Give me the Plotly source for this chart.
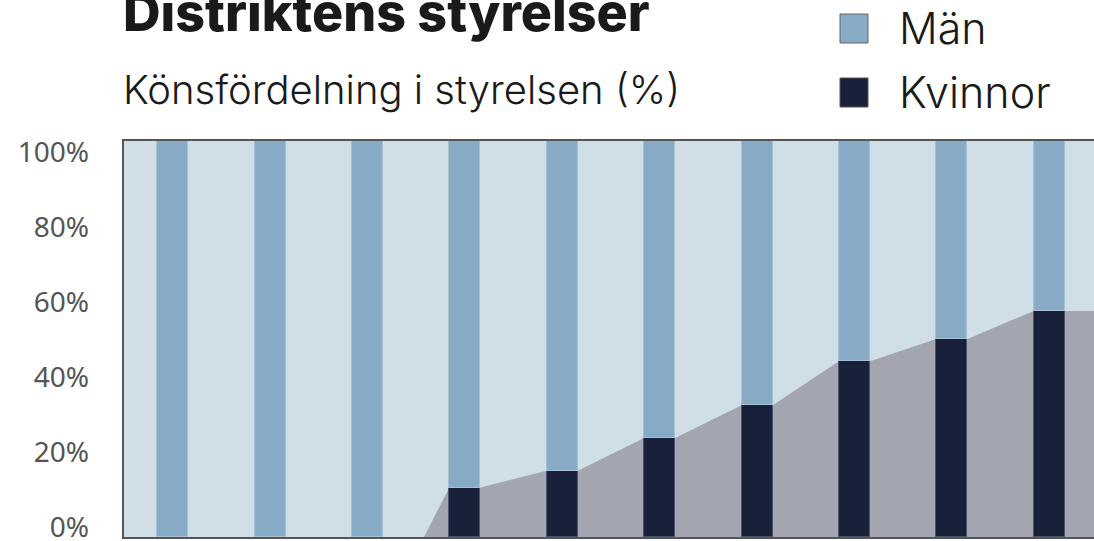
import plotly.graph_objects as go

# Styrelser, position 0..9 (vänster till höger)
positions = [0, 1, 2, 3, 4, 5, 6, 7, 8, 9]
kvinnor = [0, 0, 0, 12.5, 16.7, 25, 33.3, 44.4, 50, 57.1]
man = [100, 100, 100, 87.5, 83.3, 75, 66.7, 55.6, 50, 42.9]
y_ticks = [0, 20, 40, 60, 80, 100]
y_ticktext = ["0%", "20%", "40%", "60%", "80%", "100%"]

BAR_W = 0.32
AREA_START = 2.58

C_BG = "#d0dee7"
C_MAN = "#87aac5"
C_KV = "#18203a"
C_AREA = "#a3a5b0"

# area behind the bars, following the women's share
ax, ay = [-0.5, AREA_START], [0, 0]
for p, v in zip(positions, kvinnor):
    if v > 0:
        ax += [p - BAR_W / 2, p + BAR_W / 2]
        ay += [v, v]
ax.append(9.5)
ay.append(kvinnor[-1])

fig = go.Figure()
# area on the base axis, bars on an overlaid axis so they sit on top
fig.add_trace(go.Scatter(x=ax, y=ay, mode="lines", fill="tozeroy",
                         fillcolor=C_AREA, line=dict(width=0),
                         showlegend=False, hoverinfo="skip"))
fig.add_trace(go.Bar(x=positions, y=kvinnor, width=BAR_W, name="Kvinnor", yaxis="y3",
                     marker=dict(color=C_KV, line=dict(color="#4a5672", width=1)),
                     showlegend=False))
fig.add_trace(go.Bar(x=positions, y=man, width=BAR_W, name="Män", yaxis="y3",
                     marker=dict(color=C_MAN, line=dict(color="#a6bfd3", width=1)),
                     showlegend=False))
# invisible trace so the label axis gets drawn
fig.add_trace(go.Scatter(x=[0], y=[0], yaxis="y2", mode="markers",
                         marker=dict(opacity=0), showlegend=False, hoverinfo="skip"))

# plot area in pixels: x 124..1094, y 141..537
L, R, T, B = 124, 1094, 141, 537
def px(x):
    return (x - L) / (R - L)
def py(y):
    return (B - y) / (B - T)

shapes = [
    dict(type="rect", xref="paper", yref="paper",
         x0=px(840), x1=px(868), y0=py(43), y1=py(14),
         fillcolor=C_MAN, line=dict(color="#666666", width=1)),
    dict(type="rect", xref="paper", yref="paper",
         x0=px(840), x1=px(868), y0=py(107), y1=py(78),
         fillcolor=C_KV, line=dict(color="#555555", width=1)),
]

TXT = "#1a1a1a"
annotations = [
    dict(text="Distriktens styrelser", xref="paper", yref="paper",
         x=px(121), y=py(46), xanchor="left", yanchor="bottom", showarrow=False,
         font=dict(family="Inter", size=52, color=TXT, weight=800)),
    dict(text="Könsfördelning i styrelsen (%)", xref="paper", yref="paper",
         x=px(121), y=py(90), xanchor="left", yanchor="middle", showarrow=False,
         font=dict(family="Inter", size=40, color=TXT, weight=300)),
    dict(text="Män", xref="paper", yref="paper",
         x=px(897), y=py(28), xanchor="left", yanchor="middle", showarrow=False,
         font=dict(family="Inter", size=43, color=TXT, weight=300)),
    dict(text="Kvinnor", xref="paper", yref="paper",
         x=px(897), y=py(92), xanchor="left", yanchor="middle", showarrow=False,
         font=dict(family="Inter", size=43, color=TXT, weight=300)),
]

fig.update_layout(
    width=1094, height=541,
    margin=dict(l=L, r=0, t=T, b=541 - B),
    barmode="stack", bargap=0,
    paper_bgcolor="white", plot_bgcolor=C_BG,
    shapes=shapes, annotations=annotations,
    xaxis=dict(range=[-0.5, 9.5 - 4 / 97.4], showticklabels=False, showgrid=False,
               zeroline=False, showline=True, linecolor="#555555", linewidth=2,
               mirror=True, ticks="", automargin=False),
    yaxis=dict(range=[0, 100], showticklabels=False, showgrid=False,
               zeroline=False, showline=True, linecolor="#555555", linewidth=2,
               ticks="", automargin=False),
    yaxis3=dict(overlaying="y", range=[0, 100], visible=False, automargin=False),
    yaxis2=dict(overlaying="y", side="left", range=[-10 / 3.75, 100 + 11 / 3.75],
                tickvals=y_ticks, ticktext=y_ticktext, showgrid=False,
                zeroline=False, showline=False, ticks="", ticklabelstandoff=34,
                ticklabeloverflow="allow", automargin=False,
                tickfont=dict(family="Noto Sans", size=28, color="#555555")),
)

fig.write_html("out.html", config={"displayModeBar": False},
               post_script="document.body.style.margin='0';")
